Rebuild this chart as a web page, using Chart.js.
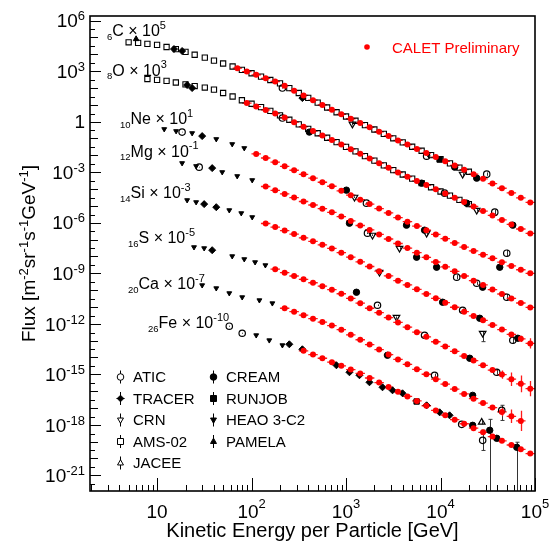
<!DOCTYPE html>
<html><head><meta charset="utf-8">
<script src="https://cdn.jsdelivr.net/npm/chart.js@4.4.1/dist/chart.umd.min.js"></script>
<style>html,body{margin:0;padding:0;background:#fff;}</style>
</head><body>
<canvas id="c" width="553" height="545"></canvas>
<script>
// ---------------- DATA ----------------
// CALET bin centres [GeV per particle]
const calE = [70.8, 89.1, 112, 141, 178, 224, 282, 355, 447, 562, 708, 891, 1122, 1413, 1778, 2239, 2818, 3548, 4467, 5623, 7079, 8913, 11220, 14125, 17783, 22387, 28184, 35481, 44668, 56234, 70795, 89125];
// CALET scaled fluxes (as plotted)
const calC = [1.48e3, 9.3e2, 6.0e2, 3.7e2, 2.4e2, 1.35e2, 69, 36, 18.6, 9.8, 5.0, 2.7, 1.48, 0.83, 0.46, 0.25, 0.14, 7.6e-2, 4.3e-2, 2.4e-2, 1.35e-2, 7.8e-3, 4.4e-3, 2.5e-3, 1.4e-3, 7.6e-4, 4.0e-4, 2.1e-4, 1.1e-4, 5.8e-5, 3.0e-5, 1.6e-5];
const calO = [null, 12.6, 7.8, 4.9, 3.0, 1.74, 0.93, 0.50, 0.275, 0.148, 0.081, 4.4e-2, 2.3e-2, 1.23e-2, 6.5e-3, 3.4e-3, 1.8e-3, 9.5e-4, 5.4e-4, 3.0e-4, 1.7e-4, 9.5e-5, 5.4e-5, 3.0e-5, 1.66e-5, 9.1e-6, 4.9e-6, 2.7e-6, 1.45e-6, 7.9e-7, 4.2e-7, 2.3e-7];
const calNe = [null, null, 1.2e-2, 6.9e-3, 3.9e-3, 2.2e-3, 1.29e-3, 7.4e-4, 4.4e-4, 2.5e-4, 1.45e-4, 7.8e-5, 4.3e-5, 2.3e-5, 1.26e-5, 6.9e-6, 3.8e-6, 2.0e-6, 1.15e-6, 6.3e-7, 3.55e-7, 2.0e-7, 1.12e-7, 6.3e-8, 3.55e-8, 2.1e-8, 1.26e-8, 7.6e-9, 4.5e-9, 2.7e-9, 1.6e-9, 9.8e-10];
const calMg = [null, null, null, 1.4e-4, 8.3e-5, 5.1e-5, 3.1e-5, 1.8e-5, 1.12e-5, 6.8e-6, 4.1e-6, 2.3e-6, 1.26e-6, 6.8e-7, 3.7e-7, 2.0e-7, 1.07e-7, 5.8e-8, 3.1e-8, 1.66e-8, 8.7e-9, 4.6e-9, 2.4e-9, 1.29e-9, 6.8e-10, 3.6e-10, 2.0e-10, 1.07e-10, 5.8e-11, 3.16e-11, 1.7e-11, 9.3e-12];
const calSi = [null, null, null, 8.9e-7, 5.5e-7, 3.4e-7, 2.1e-7, 1.26e-7, 7.8e-8, 4.8e-8, 2.95e-8, 1.66e-8, 8.9e-9, 4.7e-9, 2.5e-9, 1.32e-9, 6.9e-10, 3.6e-10, 2.0e-10, 1.1e-10, 5.9e-11, 3.2e-11, 1.78e-11, 9.5e-12, 5.2e-12, 2.9e-12, 1.58e-12, 8.3e-13, 4.5e-13, 2.3e-13, 1.26e-13, 6.8e-14];
const calS = [null, null, null, null, 1.74e-9, 1.07e-9, 6.8e-10, 4.3e-10, 2.7e-10, 1.7e-10, 1.05e-10, 6.0e-11, 3.16e-11, 1.66e-11, 8.3e-12, 4.5e-12, 2.3e-12, 1.2e-12, 6.2e-13, 3.16e-13, 1.66e-13, 8.5e-14, 4.5e-14, 2.3e-14, 1.2e-14, 6.5e-15, 3.4e-15, 1.78e-15, 9.5e-16, 5.1e-16, 2.7e-16, 1.4e-16];
const calCa = [null, null, null, null, null, 8.3e-12, 5.2e-12, 3.2e-12, 2.0e-12, 1.26e-12, 7.8e-13, 4.4e-13, 2.2e-13, 1.12e-13, 5.8e-14, 2.9e-14, 1.48e-14, 7.6e-15, 3.9e-15, 1.95e-15, 1.0e-15, 5.1e-16, 2.6e-16, 1.32e-16, 6.8e-17, 3.55e-17, 1.95e-17, 1.05e-17, 5.8e-18, 3.16e-18, 1.7e-18, null];
const calFe = [null, null, null, null, null, null, null, 2.45e-14, 1.48e-14, 8.9e-15, 5.2e-15, 3.16e-15, 1.9e-15, 1.12e-15, 6.0e-16, 3.2e-16, 1.74e-16, 9.1e-17, 4.8e-17, 2.6e-17, 1.35e-17, 7.1e-18, 3.7e-18, 2.0e-18, 1.15e-18, 6.3e-19, 3.55e-19, 2.0e-19, 1.12e-19, 6.3e-20, 3.5e-20, 1.95e-20];
// CALET vertical errors of the last bins (decades)
const tailC = [0.03, 0.04, 0.06];
const tailO = [0.03, 0.05, 0.07];
const tailNe = [0.05, 0.07, 0.1, 0.12];
const tailMg = [0.05, 0.08, 0.1, 0.13];
const tailSi = [0.08, 0.12, 0.18, 0.3];
const tailS = [0.15, 0.25, 0.4, 0.5, 0.45];
const tailCa = [0.1, 0.15, 0.25, 0.4, 0.6];
const tailFe = [0.05, 0.07, 0.1, 0.12];

// AMS-02 (C and O)
const amsE = [5.0, 6.3, 7.9, 10, 12.6, 15.8, 20, 25, 32, 40, 50, 63, 79, 100, 126, 158, 200, 251, 316, 398, 501, 631, 794, 1000, 1259, 1585, 1995, 2512, 3162, 3981, 5012, 6310, 7943, 10000, 12589, 15849, 19953];
const amsC = [5.1e4, 4.7e4, 4.1e4, 3.6e4, 2.7e4, 2.0e4, 1.38e4, 9.3e3, 6.3e3, 4.2e3, 2.8e3, 1.86e3, 1.17e3, 7.4e2, 4.7e2, 2.95e2, 1.86e2, 98, 50, 25.7, 13.5, 6.9, 3.6, 2.0, 1.12, 0.62, 0.34, 0.186, 0.102, 5.8e-2, 3.2e-2, 1.86e-2, 1.02e-2, 5.9e-3, 3.3e-3, 1.86e-3, 1.05e-3];
const amsO = [null, null, 3.4e2, 3.0e2, 2.6e2, 2.1e2, 1.62e2, 1.29e2, 1.05e2, 79, 50, 31, 18.6, 11.5, 7.2, 4.3, 2.34, 1.29, 0.69, 0.37, 0.204, 0.110, 0.060, 0.0316, 0.0170, 0.0089, 0.0048, 0.0025, 0.00132, 7.2e-4, 4.1e-4, 2.24e-4, 1.26e-4, 7.1e-5, 4.0e-5, 2.24e-5, 1.26e-5];

// Other experiments: [E, scaled flux, err up (dec), err down (dec)]
const heao = [[11.9,0.359],[15.9,0.273],[23.5,0.207],[42.3,0.0914],[62.4,0.0461],[83.7,0.0267],
  [18.4,3.43e-3],[25.9,2.28e-3],[48.9,1.0e-3],[70.5,5.8e-4],[101.6,3.35e-4],
  [20.8,2.17e-5],[25.9,1.65e-5],[58.1,5.5e-6],[77.8,3.66e-6],[101.6,2.12e-6],
  [24.6,3.5e-8],[31.5,3.05e-8],[62.4,1.02e-8],[83.7,6.8e-9],[109,4.5e-9],[140,2.98e-9],
  [30.0,1.93e-10],[42.3,1.28e-10],[58.1,6.5e-11],[79.6,3.74e-11],[121,2.48e-11],[166,1.64e-11],
  [112,2.07e-13],[154,1.04e-13],[212,5.3e-14]];
const atic = [[212,98,0.03,0.03],[7125,8.9e-3,0.05,0.05],[30830,7.6e-4,0.1,0.1],
  [212,1.62,0.03,0.03],[11040,5.65e-5,0.06,0.06],[37500,4.2e-6,0.15,0.15],
  [18.4,0.238,0.02,0.02],[1644,1.44e-5,0.05,0.05],[50240,1.54e-8,0.2,0.2],
  [27.9,1.98e-3,0.02,0.02],[1686,2.38e-7,0.05,0.05],[14830,5.8e-10,0.12,0.12],[24150,2.54e-10,0.1,0.1],[50240,3.74e-11,0.2,0.2],
  [17140,6.3e-12,0.1,0.1],[58210,1.04e-13,0.2,0.2],
  [2153,1.25e-11,0.05,0.05],[6776,2.07e-13,0.08,0.08],[39360,1.31e-15,0.2,0.2],
  [8650,8.7e-16,0.1,0.1],[44470,7.2e-18,0.3,0.6],
  [58.1,7.1e-13,0.03,0.03],[79.6,2.72e-13,0.03,0.03],[16750,1.06e-18,0.1,0.1],[27930,1.19e-19,0.6,0.6]];
const cream = [[14130,1.98e-3,0.08,0.08],[24150,4.4e-4,0.1,0.1],
  [409,0.238,0.03,0.03],[6310,2.22e-4,0.05,0.05],[18910,1.44e-5,0.08,0.08],[58210,7.1e-7,0.15,0.15],
  [1009,8.5e-5,0.03,0.03],[4365,7.1e-7,0.05,0.05],[6776,3.58e-7,0.06,0.06],[42360,2.26e-9,0.15,0.15],
  [1086,9.3e-7,0.03,0.03],[5585,8.9e-9,0.05,0.05],[9095,2.26e-9,0.08,0.08],[27930,1.47e-10,0.12,0.12],
  [10520,1.89e-11,0.08,0.08],[26000,2.11e-12,0.15,0.15],[65770,1.37e-13,0.15,0.15],
  [1289,7.4e-11,0.04,0.04],[20370,8.9e-15,0.12,0.12],
  [2747,1.34e-14,0.05,0.05],[21880,5.6e-17,0.15,0.15],
  [21880,9.3e-19,0.12,0.12],[39360,1.57e-19,0.1,0.1],[33190,4.7e-19,0.65,5],[64120,4.6e-20,0.3,5]];
const crn = [[1169,0.711,0.08,0.08],[17140,7.6e-4,0.06,0.1],[24150,5.5e-6,0.08,0.08],
  [1228,3.27e-5,0.05,0.05],[7125,2.38e-7,0.1,0.1],[1905,1.81e-7,0.05,0.05],[3681,3.05e-8,0.06,0.06],
  [2259,1.14e-9,0.06,0.06],[27930,2.72e-13,0.1,0.5],[3420,2.42e-12,0.05,0.1]];
const tracer = [[15.1,2.03e4,0.02,0.02],[18.4,1.55e4,0.02,0.02],[345,24.9,0.03,0.03],
  [20.8,148,0.02,0.02],[23.5,98,0.02,0.02],[30.0,0.138,0.03,0.03],[38.3,1.73e-3,0.03,0.03],
  [31.5,1.26e-5,0.03,0.03],[42.3,8.3e-6,0.03,0.03],[38.3,2.32e-8,0.03,0.03],
  [251,6.0e-14,0.03,0.03],[345,3.04e-14,0.03,0.03],[791,3.4e-15,0.03,0.03],[1086,1.31e-15,0.03,0.03],
  [1387,8.7e-16,0.03,0.03],[1770,3.33e-16,0.03,0.03],[2432,1.68e-16,0.04,0.04],[3105,1.11e-16,0.04,0.04],
  [3962,7.4e-17,0.05,0.05],[7125,1.43e-17,0.05,0.05],[9780,5.5e-18,0.06,0.06],[12470,3.64e-18,0.08,0.08]];
const jacee = [[27290,1.40e-18,0.12,0.12]];
const runjob = [[9780,5.6e-3,0.04,0.04],[5585,2.4e-17,0.06,0.06]];
const pamela = [[6.0,8.0e4,0.02,0.02]];

const elemSymbols = ['C','O','Ne','Mg','Si','S','Ca','Fe'];
const elemZ = ['6','8','10','12','14','16','20','26'];
const elemScaleExp = ['5','3','1','-1','-3','-5','-7','-10'];
const yLabelExps = [6,3,0,-3,-6,-9,-12,-15,-18,-21];
const xLabelExps = [1,2,3,4,5];

// ---------------- BUILD ----------------
const calSeries = [calC, calO, calNe, calMg, calSi, calS, calCa, calFe];
const calTails = [tailC, tailO, tailNe, tailMg, tailSi, tailS, tailCa, tailFe];
const calPts = [];
calSeries.forEach((arr, si) => {
  let last = -1; arr.forEach((v, i) => { if (v != null) last = i; });
  const tail = calTails[si];
  arr.forEach((v, i) => {
    if (v == null) return;
    const fe = last - i;
    const e = fe < tail.length ? tail[tail.length - 1 - fe] : 0.015;
    calPts.push({x: calE[i], y: v, eu: e, ed: e, hx: 0.05});
  });
});
const amsPts = [];
amsE.forEach((e, i) => {
  if (amsC[i] != null) amsPts.push({x: e, y: amsC[i]});
  if (amsO[i] != null) amsPts.push({x: e, y: amsO[i]});
});
const mk = arr => arr.map(p => ({x: p[0], y: p[1], eu: p[2] || 0, ed: p[3] || 0}));
const HOLLOW = 'rgba(0,0,0,0)';

const FONT = '"Liberation Sans", Arial, Helvetica, sans-serif';
const fnt = s => s + 'px ' + FONT;

function rich(ctx, x, yb, parts, align) {
  let w = 0;
  parts.forEach(p => { ctx.font = fnt(p[1]); w += ctx.measureText(p[0]).width; });
  let cx = align === 'right' ? x - w : (align === 'center' ? x - w / 2 : x);
  parts.forEach(p => { ctx.font = fnt(p[1]); ctx.fillText(p[0], cx, yb + (p[2] || 0)); cx += ctx.measureText(p[0]).width; });
}

function marker(ctx, shape, x, y, r, filled) {
  ctx.beginPath();
  if (shape === 'circle') ctx.arc(x, y, r, 0, Math.PI * 2);
  else if (shape === 'square') ctx.rect(x - r * 0.75, y - r * 0.75, r * 1.5, r * 1.5);
  else if (shape === 'diamond') { ctx.moveTo(x, y - r); ctx.lineTo(x + r, y); ctx.lineTo(x, y + r); ctx.lineTo(x - r, y); ctx.closePath(); }
  else if (shape === 'tup') { ctx.moveTo(x, y - r); ctx.lineTo(x + r * 0.9, y + r * 0.6); ctx.lineTo(x - r * 0.9, y + r * 0.6); ctx.closePath(); }
  else if (shape === 'tdown') { ctx.moveTo(x, y + r); ctx.lineTo(x + r * 0.9, y - r * 0.6); ctx.lineTo(x - r * 0.9, y - r * 0.6); ctx.closePath(); }
  if (filled) { ctx.fillStyle = '#000'; ctx.fill(); }
  else { ctx.fillStyle = '#fff'; ctx.fill(); }
  ctx.strokeStyle = '#000'; ctx.lineWidth = 1; ctx.stroke();
}

const rootStyle = {
  id: 'rootStyle',
  beforeDatasetsDraw(chart) {
    const {ctx, chartArea: a, scales: {x: xs, y: ys}} = chart;
    ctx.save();
    ctx.beginPath(); ctx.rect(a.left, a.top, a.right - a.left, a.bottom - a.top); ctx.clip();
    const order = chart.data.datasets.map((d, i) => i).reverse();
    order.forEach(i => {
      const d = chart.data.datasets[i];
      ctx.strokeStyle = d.errColor || '#333';
      ctx.lineWidth = d.errWidth || 1;
      d.data.forEach(p => {
        const px = Math.round(xs.getPixelForValue(p.x)) + 0.5;
        const py = ys.getPixelForValue(p.y);
        ctx.beginPath();
        if (p.eu || p.ed) {
          const yt = ys.getPixelForValue(p.y * Math.pow(10, p.eu));
          const yb = ys.getPixelForValue(p.y * Math.pow(10, -p.ed));
          ctx.moveTo(px, yt); ctx.lineTo(px, yb);
          if (d.caps && (yb - yt) > 9) {
            ctx.moveTo(px - 2, yt); ctx.lineTo(px + 2, yt);
            ctx.moveTo(px - 2, yb); ctx.lineTo(px + 2, yb);
          }
        }
        if (p.hx) {
          ctx.moveTo(xs.getPixelForValue(p.x * Math.pow(10, -p.hx)), py);
          ctx.lineTo(xs.getPixelForValue(p.x * Math.pow(10, p.hx)), py);
        }
        ctx.stroke();
      });
    });
    ctx.restore();
  },
  afterDraw(chart) {
    const {ctx, chartArea: a, scales: {x: xs, y: ys}} = chart;
    ctx.save();
    ctx.strokeStyle = '#000'; ctx.lineWidth = 1;
    for (let n = -22; n <= 6; n++) {
      [1, 3].forEach(m => {
        const v = m * Math.pow(10, n);
        if (v < ys.min || v > ys.max) return;
        const y = Math.round(ys.getPixelForValue(v)) + 0.5;
        const len = m === 3 ? 5 : (n % 3 === 0 ? 11 : 8);
        ctx.beginPath(); ctx.moveTo(a.left, y); ctx.lineTo(a.left + len, y); ctx.stroke();
      });
    }
    for (let n = 0; n <= 5; n++) for (let m = 1; m <= 9; m++) {
      const v = m * Math.pow(10, n);
      if (v < xs.min || v > xs.max * 1.0001) continue;
      const x = Math.round(xs.getPixelForValue(v)) + 0.5;
      const len = m === 1 ? 13 : 6;
      ctx.beginPath(); ctx.moveTo(x, a.bottom); ctx.lineTo(x, a.bottom - len); ctx.stroke();
    }
    ctx.lineWidth = 1.6;
    ctx.strokeRect(a.left, a.top, a.right - a.left, a.bottom - a.top);

    ctx.fillStyle = '#000'; ctx.textBaseline = 'alphabetic'; ctx.textAlign = 'left';
    yLabelExps.forEach(e => {
      const y = ys.getPixelForValue(Math.pow(10, e));
      if (e === 0) rich(ctx, 85, y + 6.8, [['1', 19]], 'right');
      else rich(ctx, 85, y + 6.8, [['10', 19], [String(e), 13, -7]], 'right');
    });
    xLabelExps.forEach(e => {
      const x = xs.getPixelForValue(Math.pow(10, e));
      if (e === 1) rich(ctx, x, 518, [['10', 19]], 'center');
      else rich(ctx, x, 518, [['10', 19], [String(e), 13, -10]], 'center');
    });
    rich(ctx, (a.left + a.right) / 2, 537, [['Kinetic Energy per Particle [GeV]', 20]], 'center');
    ctx.save();
    ctx.translate(35, (a.top + a.bottom) / 2);
    ctx.rotate(-Math.PI / 2);
    rich(ctx, 0, 0, [['Flux [m', 19], ['-2', 13, -7], ['sr', 19], ['-1', 13, -7], ['s', 19], ['-1', 13, -7], ['GeV', 19], ['-1', 13, -7], [']', 19]], 'center');
    ctx.restore();

    const labPos = [[107, 30.5], [107, 70], [120, 118.5], [120, 151], [120, 192.5], [128, 237.5], [128, 283.5], [148, 322.5]];
    elemSymbols.forEach((s, i) => {
      const [lx, ly] = labPos[i];
      rich(ctx, lx, ly + 5.7, [[elemZ[i], 9.5, 3.5], [s, 16], [' \u00d7 10', 16], [elemScaleExp[i], 11, -7.5]], 'left');
    });

    ctx.fillStyle = '#ff0000';
    ctx.beginPath(); ctx.arc(367, 47, 2.8, 0, Math.PI * 2); ctx.fill();
    rich(ctx, 392, 52.5, [['CALET Preliminary', 15]], 'left');

    const rows = [['ATIC','circle',false,0,0],['TRACER','diamond',true,0,1],['CRN','tdown',false,0,2],['AMS-02','square',false,0,3],['JACEE','tup',false,0,4],
                  ['CREAM','circle',true,1,0],['RUNJOB','square',true,1,1],['HEAO 3-C2','tdown',true,1,2],['PAMELA','tup',true,1,3]];
    rows.forEach(r => {
      const mx = r[3] === 0 ? 120.5 : 213.5;
      const my = 377 + r[4] * 21.5;
      ctx.strokeStyle = '#000'; ctx.lineWidth = 1;
      ctx.beginPath(); ctx.moveTo(mx, my - 6.5); ctx.lineTo(mx, my + 6.5); ctx.stroke();
      if (r[1] === 'diamond') { ctx.beginPath(); ctx.moveTo(mx - 4, my); ctx.lineTo(mx + 4, my); ctx.stroke(); }
      marker(ctx, r[1], mx, my, r[1] === 'square' ? 4 : 3.3, r[2]);
      ctx.fillStyle = '#000';
      rich(ctx, mx + 12.5, my + 5.4, [[r[0], 15]], 'left');
    });
    ctx.restore();
  }
};

const datasets = [
  {label: 'CALET', data: calPts, pointStyle: 'circle', pointRadius: 3, backgroundColor: '#ff0000', borderColor: '#ff0000', borderWidth: 0, errColor: '#ff1a1a', errWidth: 1.3, order: 0},
  {label: 'ATIC', data: mk(atic), pointStyle: 'circle', pointRadius: 3.2, backgroundColor: HOLLOW, borderColor: '#000', borderWidth: 1.2, caps: true, order: 1},
  {label: 'CREAM', data: mk(cream), pointStyle: 'circle', pointRadius: 3.2, backgroundColor: '#000', borderColor: '#000', borderWidth: 1, caps: true, order: 1},
  {label: 'TRACER', data: mk(tracer), pointStyle: 'rectRot', pointRadius: 3.5, backgroundColor: '#000', borderColor: '#000', borderWidth: 1, caps: true, order: 1},
  {label: 'CRN', data: mk(crn), pointStyle: 'triangle', pointRotation: 180, pointRadius: 3.8, backgroundColor: HOLLOW, borderColor: '#000', borderWidth: 1.2, caps: true, order: 1},
  {label: 'JACEE', data: mk(jacee), pointStyle: 'triangle', pointRadius: 3.8, backgroundColor: HOLLOW, borderColor: '#000', borderWidth: 1.2, caps: true, order: 1},
  {label: 'RUNJOB', data: mk(runjob), pointStyle: 'rect', pointRadius: 3.8, backgroundColor: '#000', borderColor: '#000', borderWidth: 1, caps: true, order: 1},
  {label: 'PAMELA', data: mk(pamela), pointStyle: 'triangle', pointRadius: 3.2, backgroundColor: '#000', borderColor: '#000', borderWidth: 1, order: 1},
  {label: 'HEAO 3-C2', data: mk(heao), pointStyle: 'triangle', pointRotation: 180, pointRadius: 2.8, backgroundColor: '#000', borderColor: '#000', borderWidth: 1, order: 1},
  {label: 'AMS-02', data: amsPts, pointStyle: 'rect', pointRadius: 3.7, backgroundColor: HOLLOW, borderColor: '#000', borderWidth: 1.1, order: 1}
];

new Chart(document.getElementById('c'), {
  type: 'scatter',
  data: {datasets},
  options: {
    responsive: false,
    animation: false,
    devicePixelRatio: 1,
    events: [],
    layout: {padding: {left: 90, top: 16, right: 18, bottom: 54}},
    plugins: {legend: {display: false}, tooltip: {enabled: false}},
    scales: {
      x: {type: 'logarithmic', min: 1.95, max: 1e5, display: false},
      y: {type: 'logarithmic', min: 1.17e-22, max: 1.86e6, display: false}
    }
  },
  plugins: [rootStyle]
});
</script>
</body></html>
